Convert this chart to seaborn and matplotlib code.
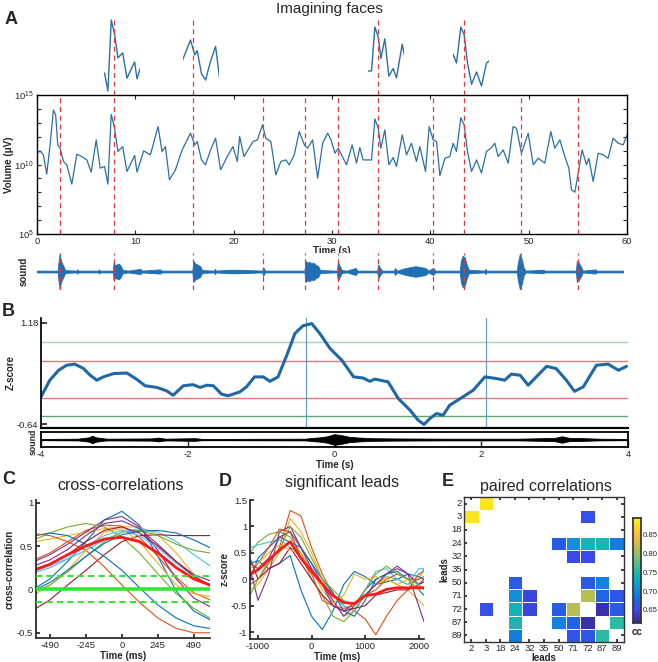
import numpy as np
import pandas as pd
import matplotlib
matplotlib.use("Agg")
import matplotlib.pyplot as plt
from matplotlib.colors import LinearSegmentedColormap
import seaborn as sns

sns.set_theme(style="ticks")
plt.rcParams["font.family"] = ["Liberation Sans", "DejaVu Sans"]
plt.rcParams["mathtext.default"] = "regular"
plt.rcParams["axes.unicode_minus"] = False
plt.rcParams["xtick.direction"] = "in"
plt.rcParams["ytick.direction"] = "in"
plt.rcParams["xtick.labelsize"] = 6.8
plt.rcParams["ytick.labelsize"] = 6.8
plt.rcParams["xtick.major.size"] = 3
plt.rcParams["ytick.major.size"] = 3
plt.rcParams["xtick.major.pad"] = 2
plt.rcParams["ytick.major.pad"] = 2

# ---------------- data ----------------
# A: volume trace, log10(uV)
a_time = [0, 0.31, 0.65, 0.99, 1.33, 1.67, 1.9, 2.11, 2.35, 2.69, 3.03, 3.54, 4.05, 4.56,
          5.07, 5.51, 6.02, 6.43, 6.87, 7.21, 7.55, 7.89, 8.23, 8.71, 9.15, 9.93, 10.17,
          10.85, 11.53, 12.31, 12.72, 13.06, 13.47, 14.08, 14.76, 15.61, 16.05, 16.29,
          16.73, 17.14, 17.65, 18.16, 18.67, 19.35, 19.93, 20.37, 20.61, 21.05, 21.56,
          21.97, 22.41, 22.93, 23.27, 23.78, 24.29, 24.8, 25.31, 25.65, 26.16, 26.67,
          27.19, 27.52, 28.03, 28.54, 29.05, 29.56, 29.9, 30.3, 30.63, 30.97, 31.48,
          32.05, 32.49, 32.83, 33.17, 34.02, 34.36, 34.7, 34.97, 35.37, 35.78, 36.22,
          36.56, 37.14, 37.58, 38.08, 38.59, 38.93, 39.51, 39.88, 40.29, 40.63, 40.97,
          41.48, 41.98, 42.32, 42.66, 43.1, 43.44, 43.78, 44.19, 44.7, 45.2, 45.71,
          46.15, 46.56, 46.9, 47.41, 47.92, 48.42, 48.76, 49.27, 49.95, 50.46, 50.97,
          51.64, 52.25, 52.66, 53.17, 53.68, 54.08, 54.36, 54.7, 55.03, 55.44, 55.88,
          56.12, 56.56, 57.07, 57.58, 58.08, 58.59, 59.1, 59.61, 60.0]
a_logvol = [10.81, 10.98, 10.69, 9.31, 11.41, 13.92, 13.56, 11.41, 11.17, 10.22, 9.98, 8.59,
            10.74, 10.57, 10.33, 9.45, 11.77, 9.74, 9.86, 8.59, 13.61, 12.61, 10.93, 11.29,
            9.5, 10.65, 9.45, 10.98, 10.69, 12.73, 10.93, 11.29, 8.9, 9.62, 11.05, 12.25,
            11.41, 11.65, 10.33, 9.98, 11.05, 11.89, 9.62, 10.57, 11.29, 10.22, 12.01,
            10.57, 11.17, 11.65, 11.77, 12.85, 11.89, 11.65, 9.26, 10.22, 10.33, 9.98,
            10.69, 12.37, 11.41, 11.17, 11.77, 9.02, 11.53, 12.25, 11.77, 10.81, 11.17,
            10.69, 9.98, 11.41, 10.1, 11.22, 10.33, 10.33, 13.28, 12.61, 11.17, 12.49,
            9.98, 10.5, 9.86, 12.13, 10.69, 11.53, 10.22, 11.29, 9.5, 12.73, 11.77, 11.65,
            9.21, 10.45, 10.57, 11.53, 10.93, 13.37, 12.85, 10.93, 9.5, 10.33, 9.38, 10.93,
            11.17, 11.53, 10.57, 11.05, 10.1, 12.73, 12.61, 10.81, 12.25, 9.98, 10.45,
            10.1, 12.37, 11.17, 11.77, 10.57, 9.74, 8.18, 8.01, 9.38, 11.05, 9.98, 10.45,
            8.78, 10.81, 10.69, 10.45, 11.89, 11.53, 11.41, 12.13]
a_onsets = [2.34, 7.83, 15.87, 23.0, 27.3, 30.6, 34.7, 40.3, 43.4, 49.2, 55.0]
snippet_onsets = [7.83, 15.87, 34.7, 43.4]
snippet_ylims = [(8.31, 13.82), (9.13, 13.56), (8.72, 13.95), (8.77, 14.05)]

# A: sound envelope
a_sound_t = [0, 2.1, 2.2, 2.3, 2.4, 2.55, 2.7, 2.85, 4.0, 4.1, 4.2, 6.2, 6.3, 6.4, 7.7, 7.8,
             7.95, 8.1, 8.3, 8.5, 8.7, 9.3, 10.5, 10.7, 12.5, 12.7, 15.8, 15.9, 16.1, 16.3,
             16.6, 16.8, 18.0, 18.1, 18.2, 19.5, 20.5, 22.9, 23.0, 23.2, 27.2, 27.3, 27.5,
             27.7, 27.9, 28.1, 28.3, 28.6, 28.8, 30.5, 30.6, 30.8, 31.0, 31.5, 32.4, 32.6,
             34.6, 34.7, 34.9, 35.1, 36.3, 36.4, 36.6, 37.5, 38.0, 38.5, 39.0, 39.5, 39.8,
             40.3, 40.5, 43.0, 43.1, 43.3, 43.5, 43.7, 43.9, 45.5, 45.6, 45.7, 48.8, 48.9,
             49.1, 49.3, 49.5, 49.7, 51.5, 51.6, 54.8, 54.9, 55.1, 55.3, 55.5, 56.8, 56.9,
             59.6]
a_sound_amp = [0.05, 0.05, 0.6, 1.0, 0.7, 0.45, 0.3, 0.08, 0.05, 0.12, 0.05, 0.05, 0.12, 0.05,
               0.05, 0.5, 0.35, 0.4, 0.45, 0.35, 0.1, 0.05, 0.15, 0.05, 0.12, 0.05, 0.05, 0.6,
               0.45, 0.4, 0.3, 0.08, 0.05, 0.15, 0.05, 0.1, 0.1, 0.05, 0.25, 0.05, 0.05, 0.6,
               0.5, 0.55, 0.45, 0.5, 0.4, 0.3, 0.08, 0.05, 0.55, 0.3, 0.08, 0.05, 0.2, 0.05,
               0.05, 0.4, 0.2, 0.05, 0.05, 0.2, 0.05, 0.2, 0.25, 0.3, 0.25, 0.2, 0.05, 0.2,
               0.05, 0.05, 0.6, 0.9, 0.8, 0.4, 0.1, 0.05, 0.15, 0.05, 0.05, 0.5, 1.0, 0.7,
               0.2, 0.05, 0.1, 0.05, 0.05, 0.6, 0.5, 0.3, 0.05, 0.12, 0.05, 0.05]

# B: z-score around onset
b_time = [-4.0, -3.88, -3.76, -3.65, -3.54, -3.42, -3.33, -3.24, -3.15, -3.01, -2.83, -2.70,
          -2.58, -2.42, -2.29, -2.20, -2.06, -1.93, -1.83, -1.74, -1.65, -1.54, -1.45, -1.29,
          -1.20, -1.09, -0.97, -0.88, -0.77, -0.65, -0.54, -0.43, -0.31, -0.20, -0.06, 0.10,
          0.26, 0.39, 0.48, 0.55, 0.73, 0.87, 1.03, 1.14, 1.22, 1.30, 1.39, 1.48, 1.57, 1.75,
          1.89, 2.05, 2.21, 2.32, 2.41, 2.53, 2.64, 2.75, 2.89, 3.02, 3.16, 3.27, 3.39, 3.57,
          3.73, 3.87, 3.98]
b_z = [-0.15, 0.15, 0.33, 0.42, 0.44, 0.36, 0.24, 0.15, 0.21, 0.27, 0.28, 0.17, 0.05, 0.02,
       -0.04, -0.12, 0.05, 0.07, 0.02, 0.06, 0.05, -0.10, -0.13, -0.06, 0.03, 0.21, 0.21, 0.13,
       0.21, 0.60, 0.99, 1.13, 1.17, 0.99, 0.72, 0.51, 0.21, 0.19, 0.13, 0.17, 0.12, -0.18,
       -0.39, -0.57, -0.645, -0.54, -0.45, -0.48, -0.30, -0.15, -0.03, 0.21, 0.18, 0.15, 0.26,
       0.24, 0.06, 0.21, 0.40, 0.36, 0.15, -0.05, 0.03, 0.42, 0.44, 0.33, 0.40]
b_green = [0.84, -0.50]
b_red = [0.50, -0.17]
b_marks = [-0.39, 2.06]
b_sound_t = [-4.0, -3.5, -3.35, -3.3, -3.25, -3.1, -2.5, -2.4, -2.3, -1.9, -1.8, -0.4, -0.3,
             -0.2, -0.1, 0.0, 0.1, 0.2, 0.35, 0.5, 0.8, 1.5, 2.5, 3.0, 3.1, 3.2, 3.4, 3.6, 4.0]
b_sound_amp = [0.1, 0.15, 0.4, 0.7, 0.4, 0.15, 0.2, 0.35, 0.15, 0.25, 0.1, 0.15, 0.3, 0.4,
               0.6, 1.0, 0.8, 0.5, 0.35, 0.25, 0.2, 0.15, 0.15, 0.3, 0.6, 0.3, 0.25, 0.15, 0.1]

# C: cross-correlations
c_lag = [-585, -490, -370, -245, -120, 0, 120, 245, 370, 490, 600]
c_curves = [
    [0.02, 0.12, 0.32, 0.55, 0.80, 0.90, 0.74, 0.38, -0.02, -0.25, -0.35],
    [0.35, 0.42, 0.55, 0.68, 0.74, 0.73, 0.60, 0.38, 0.14, -0.04, -0.12],
    [0.55, 0.58, 0.62, 0.66, 0.70, 0.72, 0.72, 0.63, 0.42, 0.17, 0.03],
    [0.33, 0.40, 0.52, 0.66, 0.80, 0.84, 0.72, 0.45, 0.12, -0.10, -0.20],
    [0.58, 0.65, 0.72, 0.76, 0.72, 0.60, 0.42, 0.18, -0.05, -0.22, -0.33],
    [0.25, 0.28, 0.35, 0.45, 0.57, 0.66, 0.70, 0.66, 0.55, 0.40, 0.27],
    [-0.22, -0.12, 0.05, 0.22, 0.40, 0.55, 0.62, 0.63, 0.62, 0.62, 0.62],
    [0.62, 0.65, 0.62, 0.52, 0.38, 0.22, 0.02, -0.18, -0.33, -0.42, -0.45],
    [0.64, 0.62, 0.55, 0.45, 0.26, 0.05, -0.15, -0.33, -0.45, -0.50, -0.50],
    [-0.05, 0.05, 0.22, 0.45, 0.66, 0.70, 0.55, 0.30, 0.05, -0.05, -0.08],
    [0.28, 0.34, 0.46, 0.62, 0.76, 0.79, 0.70, 0.52, 0.32, 0.17, 0.10],
    [-0.02, 0.05, 0.20, 0.38, 0.55, 0.66, 0.68, 0.62, 0.52, 0.45, 0.42],
    [0.20, 0.25, 0.35, 0.50, 0.62, 0.68, 0.62, 0.48, 0.30, 0.15, 0.05],
    [0.22, 0.28, 0.40, 0.55, 0.68, 0.72, 0.65, 0.50, 0.32, 0.15, 0.05],
    [0.00, 0.08, 0.22, 0.38, 0.53, 0.63, 0.67, 0.68, 0.65, 0.57, 0.48],
]
c_mean = [0.23, 0.29, 0.40, 0.50, 0.58, 0.60, 0.55, 0.42, 0.25, 0.12, 0.05]
c_thresh = [0.16, -0.15]

# D: significant leads
d_time = [-1150, -1000, -800, -600, -400, -200, 0, 200, 400, 600, 800, 1000, 1200, 1400,
          1600, 1800, 2000, 2100]
d_curves = [
    [0.3, 0.35, 0.2, 0.3, 0.45, -0.2, -0.7, -0.95, -0.6, -0.1, 0.15, 0.05, -0.1, -0.05, 0.0, 0.1, 0.05, 0.0],
    [-0.1, 0.0, 0.3, 0.6, 1.3, 1.2, 0.6, 0.1, -0.3, -0.5, -0.6, -0.75, -1.05, -0.7, -0.4, -0.2, 0.1, 0.15],
    [-0.2, -0.1, 0.2, 0.5, 1.15, 0.9, 0.5, 0.0, -0.4, -0.7, -0.6, -0.3, -0.1, 0.0, -0.1, -0.2, -0.4, -0.5],
    [0.2, -0.4, 0.1, 0.9, 1.0, 0.6, 0.3, -0.1, -0.4, -0.7, -0.5, -0.2, 0.0, 0.1, 0.2, 0.1, -0.5, -0.8],
    [0.5, 0.7, 0.85, 0.9, 0.8, 0.5, 0.0, -0.3, -0.7, -0.8, -0.6, -0.3, -0.1, 0.05, 0.0, -0.1, 0.0, 0.2],
    [0.6, 0.65, 0.7, 0.75, 0.6, 0.5, 0.2, -0.1, -0.3, -0.5, -0.6, -0.2, 0.15, 0.2, 0.0, -0.1, 0.2, 0.2],
    [0.4, 0.0, 0.2, 0.3, 0.6, 0.3, 0.0, -0.3, -0.5, -0.6, -0.55, -0.5, -0.3, -0.25, -0.2, -0.2, -0.1, -0.05],
    [0.0, 0.4, 0.6, 0.8, 0.7, 0.6, 0.3, 0.0, -0.25, -0.6, -0.7, -0.4, 0.0, 0.1, 0.15, 0.0, -0.2, -0.3],
    [0.1, 0.3, 0.6, 0.95, 0.9, 0.4, 0.1, -0.4, -0.5, -0.55, -0.5, -0.3, -0.2, 0.0, 0.1, 0.0, 0.0, 0.05],
    [0.2, 0.3, 0.5, 0.65, 0.55, 0.5, 0.2, -0.2, -0.45, -0.3, 0.1, 0.0, 0.05, 0.0, -0.1, 0.0, -0.2, -0.15],
    [0.3, 0.2, 0.4, 0.8, 0.9, 0.6, 0.2, -0.1, -0.5, -0.6, -0.45, -0.3, -0.1, 0.1, 0.25, 0.1, -0.1, 0.0],
    [-0.3, 0.0, 0.35, 0.55, 1.0, 0.8, 0.4, 0.0, -0.2, -0.4, -0.5, -0.2, 0.1, 0.25, 0.1, 0.0, -0.1, -0.2],
]
d_mean = [0.09, 0.18, 0.37, 0.55, 0.71, 0.40, 0.15, -0.09, -0.31, -0.44, -0.46, -0.31, -0.28,
          -0.19, -0.16, -0.16, -0.16, -0.16]

# E: paired correlations
leads = [2, 3, 18, 24, 32, 35, 50, 71, 72, 87, 89]
N = np.nan
cc_table = [
    [N, .88, N, N, N, N, N, N, N, N, N],
    [.88, N, N, N, N, N, N, N, .655, N, N],
    [N, N, N, N, N, N, N, N, N, N, N],
    [N, N, N, N, N, N, .665, .705, .74, .745, .69],
    [N, N, N, N, N, N, N, .65, .65, N, N],
    [N, N, N, N, N, N, N, N, N, N, N],
    [N, N, N, .665, N, N, N, N, .665, .695, N],
    [N, N, N, .705, .645, N, N, N, .815, .67, .66],
    [N, .655, N, .74, .645, N, .665, .815, N, .625, .665],
    [N, N, N, .745, N, N, .695, .67, .625, N, .755],
    [N, N, N, .69, N, N, N, .66, .66, .755, N],
]

# ---------------- style ----------------
matlab = ["#0072BD", "#D95319", "#EDB120", "#7E2F8E", "#77AC30", "#4DBEEE", "#A2142F"]
parula = LinearSegmentedColormap.from_list("parula", [
    (0.00, (0.208, 0.166, 0.529)), (0.12, (0.240, 0.280, 0.920)),
    (0.22, (0.090, 0.420, 0.890)), (0.32, (0.070, 0.560, 0.860)),
    (0.42, (0.040, 0.680, 0.760)), (0.52, (0.200, 0.740, 0.620)),
    (0.62, (0.470, 0.760, 0.460)), (0.72, (0.740, 0.740, 0.320)),
    (0.82, (0.960, 0.720, 0.260)), (0.90, (0.980, 0.820, 0.170)),
    (1.00, (0.976, 0.984, 0.080))])
trace_blue = "#2b6fa3"
dash_red = "#e03a3a"
lab = dict(fontsize=7, fontweight="bold")

W, H = 658, 662
fig = plt.figure(figsize=(W / 100, H / 100), dpi=100)


def box(x0, y0, x1, y1):
    return [x0 / W, 1 - y1 / H, (x1 - x0) / W, (y1 - y0) / H]


def px(x, y):
    return x / W, 1 - y / H


# ---------------- panel A ----------------
fig.text(*px(11, 20), "A", fontsize=13, fontweight="bold", ha="center", va="center")
fig.text(*px(329, 9), "Imagining faces", fontsize=11, ha="center", va="center")

axA = fig.add_axes(box(37, 95, 627, 234))
axA.set_yscale("log")
sns.lineplot(x=a_time, y=10.0 ** np.array(a_logvol), ax=axA, color=trace_blue, lw=0.9)
for t in a_onsets:
    axA.axvline(t, color=dash_red, ls=(0, (4, 3)), lw=0.9)
axA.set_xlim(0, 60)
axA.set_ylim(1e5, 1e15)
axA.minorticks_off()
decades = list(range(5, 16))
axA.set_yticks([10.0 ** k for k in decades],
               labels=[f"$10^{{{k}}}$" if k in (5, 10, 15) else "" for k in decades])
axA.set_xticks(range(0, 61, 10))
axA.tick_params(top=True, right=True, length=3, width=0.8)
for s in axA.spines.values():
    s.set_color("black")
    s.set_linewidth(1.0)
axA.set_ylabel("Volume (μV)", labelpad=0, **lab)
axA.set_xlabel("Time (s)", labelpad=0, **lab)

for t, yl in zip(snippet_onsets, snippet_ylims):
    x0 = 37 + (t - 1.05) * 590 / 60
    x1 = 37 + (t + 2.6) * 590 / 60
    ax = fig.add_axes(box(x0, 17, x1, 95))
    sns.lineplot(x=a_time, y=a_logvol, ax=ax, color=trace_blue, lw=1.0)
    ax.axvline(t, color=dash_red, ls=(0, (4, 3)), lw=0.9)
    ax.set_xlim(t - 1.05, t + 2.6)
    ax.set_ylim(*yl)
    ax.axis("off")

axAs = fig.add_axes(box(37, 253, 627, 290))
axAs.fill_between(a_sound_t, -np.array(a_sound_amp), a_sound_amp, color="#1f6fb4", lw=0.6)
axAs.plot([a_sound_t[0], a_sound_t[-1]], [0, 0], color="#1f6fb4", lw=0.8)
for t in a_onsets:
    axAs.axvline(t, color=dash_red, ls=(0, (4, 3)), lw=0.9)
axAs.set_xlim(0, 60)
axAs.set_ylim(-1.05, 1.05)
axAs.set_xticks([])
axAs.set_yticks([])
sns.despine(ax=axAs, left=True, bottom=True)
axAs.set_ylabel("sound", labelpad=6, **lab)

# ---------------- panel B ----------------
fig.text(*px(8, 311), "B", fontsize=13, fontweight="bold", ha="center", va="center")
axB = fig.add_axes(box(41, 318, 628, 428))
axB.axhline(b_green[0], color="#a5d4ad", lw=1.0)
axB.axhline(b_green[1], color="#5fa571", lw=1.0)
for r in b_red:
    axB.axhline(r, color="#e07a7a", lw=1.0)
for m in b_marks:
    axB.axvline(m, color="#5b9bc0", lw=0.8)
sns.lineplot(x=b_time, y=b_z, ax=axB, color="#1f68a5", lw=2.2)
axB.set_xlim(-4, 4)
axB.set_ylim(-0.71, 1.27)
axB.set_yticks([1.18, -0.64], labels=["1.18", "-0.64"])
axB.tick_params(bottom=False, labelbottom=False, length=4)
sns.despine(ax=axB)
axB.spines["left"].set_color("black")
axB.spines["bottom"].set_color("black")
axB.spines["bottom"].set_linewidth(1.6)
axB.set_ylabel("Z-score", labelpad=1, **lab)

axBs = fig.add_axes(box(41, 432, 628, 447))
axBs.fill_between(b_sound_t, -np.array(b_sound_amp), b_sound_amp, color="black", lw=0.6)
axBs.plot([-4, 4], [0, 0], color="black", lw=0.9)
axBs.set_xlim(-4, 4)
axBs.set_ylim(-1.4, 1.4)
axBs.set_yticks([])
axBs.set_xticks([-4, -2, 0, 2, 4])
axBs.tick_params(length=4, width=1.0)
for s in axBs.spines.values():
    s.set_color("black")
    s.set_linewidth(1.3)
axBs.set_xlabel("Time (s)", labelpad=1, **lab)
fig.text(*px(33, 442), "sound", rotation=90, ha="center", va="center",
         fontsize=6.3, fontweight="bold")

# ---------------- panel C ----------------
fig.text(*px(9, 480), "C", fontsize=13, fontweight="bold", ha="center", va="center")
fig.text(*px(121, 485), "cross-correlations", fontsize=11.5, ha="center", va="center")
axC = fig.add_axes(box(36, 500, 210, 638))
for i, vals in enumerate(c_curves):
    sns.lineplot(x=c_lag, y=vals, ax=axC, color=matlab[i % 7], lw=0.8)
sns.lineplot(x=c_lag, y=c_mean, ax=axC, color="#ff1a1a", lw=2.0)
axC.axhline(0, color="#33e633", lw=2.6, zorder=5)
for v in c_thresh:
    axC.axhline(v, color="#33e633", lw=1.5, ls=(0, (3, 2)), zorder=5)
axC.set_xlim(-585, 600)
axC.set_ylim(-0.56, 1.03)
axC.set_xticks([-490, -245, 0, 245, 490])
axC.set_yticks([-0.5, 0, 0.5, 1], labels=["-0.5", "0", "0.5", "1"])
sns.despine(ax=axC)
axC.set_xlabel("Time (ms)", labelpad=1, **lab)
axC.set_ylabel("cross-correlation", labelpad=2, **lab)

# ---------------- panel D ----------------
fig.text(*px(225, 481), "D", fontsize=13, fontweight="bold", ha="center", va="center")
fig.text(*px(342, 483), "significant leads", fontsize=11.5, ha="center", va="center")
axD = fig.add_axes(box(250, 500, 424, 639))
for i, vals in enumerate(d_curves):
    sns.lineplot(x=d_time, y=vals, ax=axD, color=matlab[i % 7], lw=0.8)
sns.lineplot(x=d_time, y=d_mean, ax=axD, color="#ff1a1a", lw=2.0)
axD.set_xlim(-1150, 2100)
axD.set_ylim(-1.13, 1.5)
axD.set_xticks([-1000, 0, 1000, 2000])
axD.set_yticks([-1, -0.5, 0, 0.5, 1, 1.5], labels=["-1", "-0.5", "0", "0.5", "1", "1.5"])
sns.despine(ax=axD)
axD.set_xlabel("Time (ms)", labelpad=1, **lab)
axD.set_ylabel("z-score", labelpad=1, **lab)

# ---------------- panel E ----------------
fig.text(*px(448, 481), "E", fontsize=13, fontweight="bold", ha="center", va="center")
fig.text(*px(546, 486), "paired correlations", fontsize=11.5, ha="center", va="center")
axE = fig.add_axes(box(464, 497, 624, 642))
cax = fig.add_axes(box(633, 518, 641, 623))
cc = pd.DataFrame(cc_table, index=leads, columns=leads)
sns.heatmap(cc, cmap=parula, vmin=0.615, vmax=0.895, ax=axE, cbar_ax=cax,
            linewidths=0.6, linecolor="white",
            cbar_kws={"ticks": [0.65, 0.70, 0.75, 0.80, 0.85], "format": "%.2f"})
for s in axE.spines.values():
    s.set_visible(True)
    s.set_color("#333333")
    s.set_linewidth(1.0)
axE.tick_params(length=2, direction="in", top=True, right=True, labelsize=6.8, pad=1.5)
axE.set_yticklabels(leads, rotation=0)
axE.set_xticklabels(leads, rotation=0)
axE.set_xlabel("leads", labelpad=0, **lab)
axE.set_ylabel("leads", labelpad=1, **lab)
cax.tick_params(labelsize=5.6, length=2, direction="in", pad=1)
for s in cax.spines.values():
    s.set_visible(True)
    s.set_color("#333333")
fig.text(*px(637, 632), "cc", ha="center", va="center", **lab)

fig.savefig("out.png", dpi=100)
